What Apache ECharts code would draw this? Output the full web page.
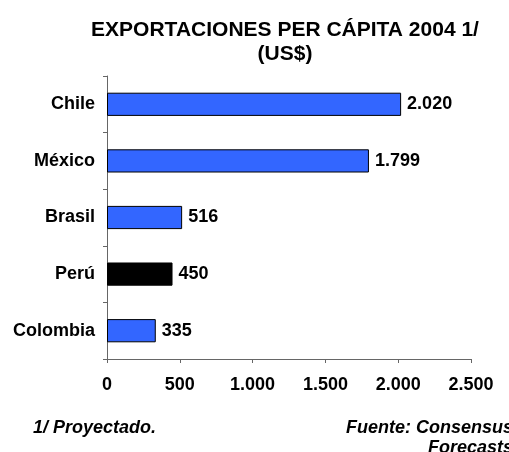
<!DOCTYPE html>
<html>
<head>
<meta charset="utf-8">
<script src="https://cdn.jsdelivr.net/npm/echarts@6/dist/echarts.min.js"></script>
<style>
  html, body { margin: 0; padding: 0; background: #fff; }
  #chart { width: 509px; height: 452px; }
</style>
</head>
<body>
<div id="chart"></div>
<script>
// Exportaciones per cápita 2004 (US$), de abajo hacia arriba
const countries = ['Colombia', 'Perú', 'Brasil', 'México', 'Chile'];
const exportsPerCapita = [335, 450, 516, 1799, 2020];
const highlighted = 'Perú';
const xTicks = [0, 500, 1000, 1500, 2000, 2500];

const FONT = '"Liberation Sans", Arial, sans-serif';
const fmt = v => String(v).replace(/\B(?=(\d{3})+(?!\d))/g, '.');

const chart = echarts.init(document.getElementById('chart'), null, { renderer: 'canvas' });

chart.setOption({
  animation: false,
  backgroundColor: '#ffffff',
  title: {
    text: 'EXPORTACIONES PER CÁPITA 2004 1/\n(US$)',
    left: 280,
    top: 13,
    textAlign: 'center',
    textStyle: {
      fontFamily: FONT,
      fontWeight: 'bold',
      fontSize: 21,
      lineHeight: 24,
      color: '#000'
    }
  },
  grid: { left: 107, right: 38, top: 76, bottom: 93, containLabel: false },
  xAxis: {
    type: 'value',
    min: xTicks[0],
    max: xTicks[xTicks.length - 1],
    interval: xTicks[1] - xTicks[0],
    axisLine: { show: true, lineStyle: { color: '#666', width: 1 } },
    axisTick: { show: true, length: 4, lineStyle: { color: '#666' } },
    splitLine: { show: false },
    axisLabel: {
      margin: 17,
      fontFamily: FONT,
      fontWeight: 'bold',
      fontSize: 18,
      color: '#000',
      formatter: v => fmt(v)
    }
  },
  yAxis: {
    type: 'category',
    data: countries,
    axisLine: { show: true, lineStyle: { color: '#666', width: 1 } },
    axisTick: { show: true, length: 4, lineStyle: { color: '#666' } },
    axisLabel: {
      margin: 12,
      fontFamily: FONT,
      fontWeight: 'bold',
      fontSize: 18,
      color: '#000'
    }
  },
  series: [{
    type: 'bar',
    barWidth: '41%',
    data: exportsPerCapita.map((v, i) => ({
      value: v,
      itemStyle: { color: countries[i] === highlighted ? '#000000' : '#3366FF' }
    })),
    itemStyle: { borderColor: '#000', borderWidth: 1 },
    label: {
      show: true,
      position: 'right',
      distance: 6,
      fontFamily: FONT,
      fontWeight: 'bold',
      fontSize: 18,
      color: '#000',
      formatter: p => fmt(p.value)
    }
  }],
  graphic: [
    {
      type: 'text',
      x: 33,
      y: 418,
      style: {
        text: '1/ Proyectado.',
        fontFamily: FONT,
        fontWeight: 'bold',
        fontStyle: 'italic',
        fontSize: 18,
        lineHeight: 20,
        verticalAlign: 'top',
        fill: '#000'
      }
    },
    {
      type: 'text',
      x: 513,
      y: 418,
      style: {
        text: 'Fuente: Consensus\nForecasts',
        align: 'right',
        verticalAlign: 'top',
        fontFamily: FONT,
        fontWeight: 'bold',
        fontStyle: 'italic',
        fontSize: 18,
        lineHeight: 20,
        fill: '#000'
      }
    }
  ]
});
</script>
</body>
</html>
